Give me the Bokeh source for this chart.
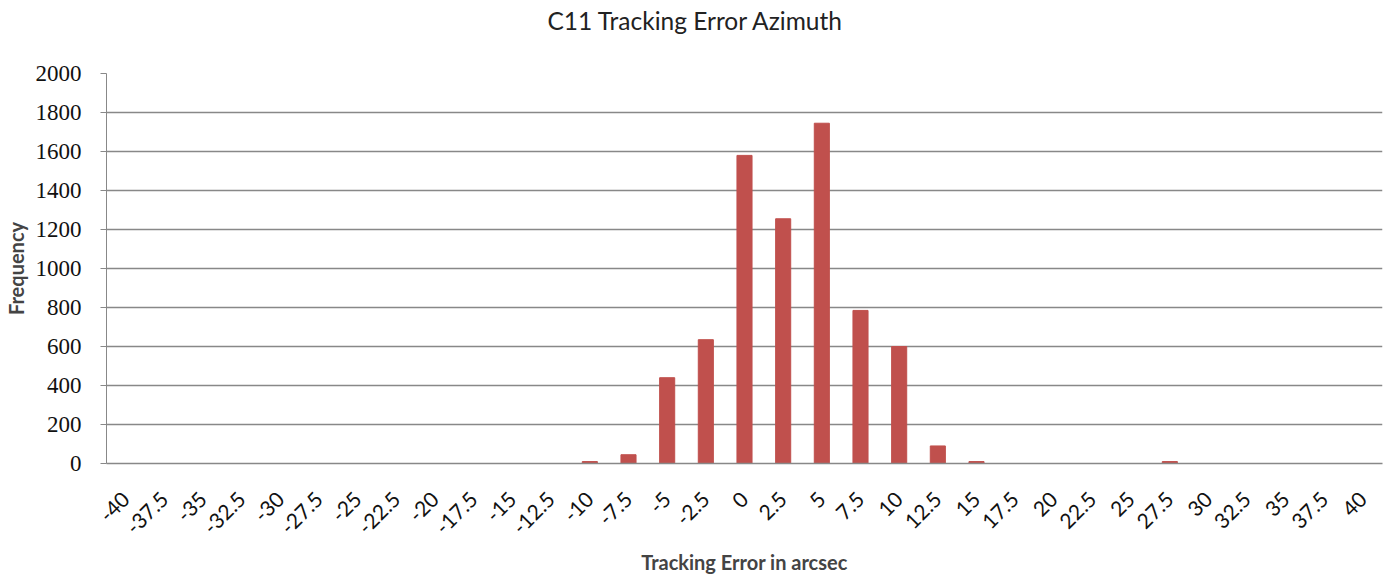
from bokeh.plotting import figure
from bokeh.models import FactorRange, Range1d, ColumnDataSource, SingleIntervalTicker, Title
from bokeh.embed import file_html
from bokeh.resources import INLINE
import math

title_text = "C11 Tracking Error Azimuth"
categories = ["-40", "-37.5", "-35", "-32.5", "-30", "-27.5", "-25", "-22.5", "-20",
              "-17.5", "-15", "-12.5", "-10", "-7.5", "-5", "-2.5", "0", "2.5", "5",
              "7.5", "10", "12.5", "15", "17.5", "20", "22.5", "25", "27.5", "30",
              "32.5", "35", "37.5", "40"]
frequency = [0, 0, 0, 0, 0, 0, 0, 0, 0,
             0, 0, 0, 10, 45, 440, 635, 1580, 1255, 1745,
             785, 600, 90, 10, 0, 0, 0, 0, 10, 0,
             0, 0, 0, 0]

src = ColumnDataSource(data=dict(cat=categories, freq=frequency))

p = figure(width=1383, height=576, output_backend="svg", toolbar_location=None,
           x_range=FactorRange(*categories, range_padding=0), y_range=Range1d(0, 2000),
           title=None,
           min_border_left=102, min_border_right=1, min_border_top=73, min_border_bottom=113)

p.vbar(x="cat", top="freq", width=0.39, source=src, color="#C0504D")

# spacer between frame and title, then the title itself
p.add_layout(Title(text=" ", text_font_size="1px", standoff=36), "above")
p.add_layout(Title(text=title_text, align="left", offset=441, standoff=0,
                   vertical_align="bottom", text_font="Lato", text_font_size="24.5px",
                   text_font_style="normal", text_color="#222222"), "above")

p.outline_line_color = None
p.background_fill_color = "white"
p.border_fill_color = "white"

p.xgrid.grid_line_color = None
p.ygrid.grid_line_color = "#888888"
p.ygrid.grid_line_width = 1.5

p.yaxis.ticker = SingleIntervalTicker(interval=200)
p.yaxis.axis_line_color = "#888888"
p.yaxis.major_tick_line_color = "#888888"
p.yaxis.major_tick_out = 6
p.yaxis.major_tick_in = 0
p.yaxis.minor_tick_line_color = None
p.yaxis.major_label_standoff = 19
p.yaxis.major_label_text_font = "Liberation Serif"
p.yaxis.major_label_text_font_size = "23px"
p.yaxis.major_label_text_color = "#111111"
p.yaxis.axis_label = "Frequency"
p.yaxis.axis_label_text_font = "Lato"
p.yaxis.axis_label_text_font_style = "bold"
p.yaxis.axis_label_text_font_size = "20px"
p.yaxis.axis_label_standoff = 5

p.xaxis.axis_line_color = "#888888"
p.xaxis.axis_line_width = 1.5
p.xaxis.major_tick_line_color = None
p.xaxis.major_tick_out = 0
p.xaxis.major_tick_in = 0
p.xaxis.major_label_orientation = math.pi / 4
p.xaxis.major_label_standoff = 32
p.xaxis.major_label_text_font = "Lato"
p.xaxis.major_label_text_font_size = "21px"
p.xaxis.major_label_text_color = "#111111"
p.xaxis.axis_label = "Tracking Error in arcsec"
p.xaxis.axis_label_text_font = "Lato"
p.xaxis.axis_label_text_font_style = "bold"
p.xaxis.axis_label_text_font_size = "20px"
p.xaxis.axis_label_standoff = 6

open("out.html", "w").write(file_html(p, INLINE))
